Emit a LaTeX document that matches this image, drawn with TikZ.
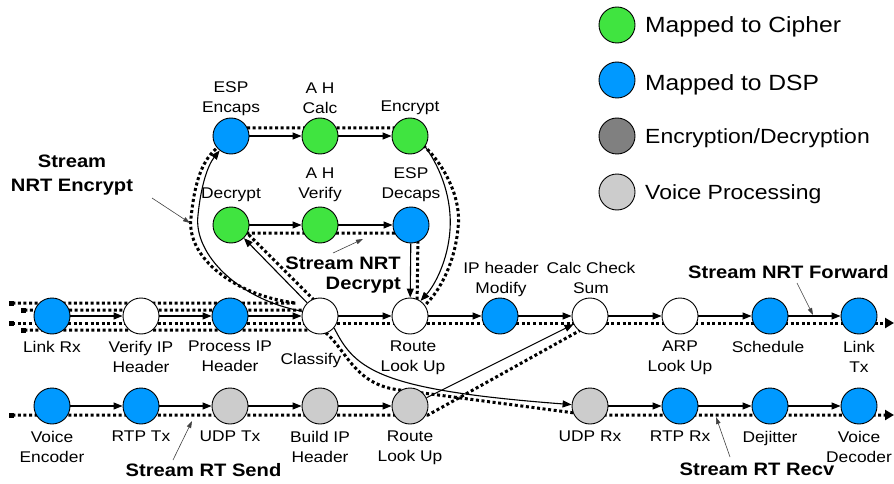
\documentclass[tikz,border=0pt]{standalone}
\usepackage{fontspec}
\setmainfont{Liberation Sans}[FakeStretch=1.12]
\usetikzlibrary{arrows.meta,backgrounds,calc}
\definecolor{cgreen}{RGB}{64,228,64}
\definecolor{cblue}{RGB}{0,153,255}
\definecolor{cdark}{RGB}{128,128,128}
\definecolor{clight}{RGB}{204,204,204}
\begin{document}
\begin{tikzpicture}[x=1pt,y=-1pt,
  proc/.style={circle,draw=black,line width=0.9pt,minimum size=36pt,inner sep=0pt},
  cip/.style={proc,fill=cgreen},
  dsp/.style={proc,fill=cblue},
  wht/.style={proc,fill=white},
  voi/.style={proc,fill=clight},
  encdec/.style={proc,fill=cdark},
  lbl/.style={font=\fontsize{15.5}{20}\selectfont,align=center,inner sep=0pt},
  strm/.style={font=\fontsize{18}{24}\selectfont\bfseries,align=center,inner sep=0pt},
  legA/.style={font=\fontsize{22}{26}\selectfont,anchor=base west,inner sep=0pt},
  legB/.style={font=\fontsize{20.5}{24}\selectfont,anchor=base west,inner sep=0pt},
  flow/.style={line width=1.1pt,-{Triangle[length=9pt,width=7pt]}},
  dotline/.style={line width=3pt,dash pattern=on 3pt off 2.6pt},
  sqstart/.style={{Square[length=5pt,width=5pt]}-},
  sqboth/.style={{Square[length=5pt,width=5pt]}-{Triangle[length=9pt,width=10pt]}},
  leadr/.style={line width=0.6pt,draw=black!75,-{Triangle[length=7pt,width=4.5pt]}}
]
\useasboundingbox (0,0) rectangle (894,484);

% legend
\node[cip] (lg1) at (617,25) {};
\node[dsp] (lg2) at (617,80) {};
\node[encdec] (lg3) at (617,136) {};
\node[voi] (lg4) at (617,192) {};
\node[legA] (lt1) at (645,33) {Mapped to Cipher};
\node[legA] (lt2) at (645,91) {Mapped to DSP};
\node[legB] (lt3) at (645,143) {Encryption/Decryption};
\node[legB] (lt4) at (645,199) {Voice Processing};

% process nodes
\node[dsp] (esp) at (231,136) {};
\node[cip] (ahc) at (320,136) {};
\node[cip] (enc) at (410,136) {};
\node[cip] (dec) at (231,225) {};
\node[cip] (ahv) at (320,225) {};
\node[dsp] (espd) at (411,225) {};
\node[dsp] (lrx) at (52,316) {};
\node[wht] (vip) at (141,316) {};
\node[dsp] (pip) at (230,316) {};
\node[wht] (cls) at (320,316) {};
\node[wht] (rlu) at (410,316) {};
\node[dsp] (ipm) at (500,316) {};
\node[wht] (ccs) at (590,316) {};
\node[wht] (arp) at (680,316) {};
\node[dsp] (sch) at (770,316) {};
\node[dsp] (ltx) at (859,316) {};
\node[dsp] (ven) at (52,406) {};
\node[dsp] (rtx) at (141,406) {};
\node[voi] (utx) at (230,406) {};
\node[voi] (bip) at (320,406) {};
\node[voi] (rlb) at (410,406) {};
\node[voi] (urx) at (590,406) {};
\node[dsp] (rrx) at (680,406) {};
\node[dsp] (dej) at (770,406) {};
\node[dsp] (vdc) at (859,406) {};

% node labels
\node[lbl] (tesp) at (231,98.7) {ESP\\Encaps};
\node[lbl] (tahc) at (320,98.5) {A H\\Calc};
\node[lbl] (tenc) at (410,108) {Encrypt};
\node[lbl] (tdec) at (231,195) {Decrypt};
\node[lbl] (tahv) at (320,185) {A H\\Verify};
\node[lbl] (tespd) at (411,185) {ESP\\Decaps};
\node[lbl] (tlrx) at (52,346.5) {Link Rx};
\node[lbl] (tvip) at (141,356.5) {Verify IP\\Header};
\node[lbl] (tpip) at (230,356.5) {Process IP\\Header};
\node[lbl] (tcls) at (311,360) {Classify};
\node[lbl] (trlu) at (413,358) {Route\\Look Up};
\node[lbl] (tipm) at (501,279) {IP header\\Modify};
\node[lbl] (tccs) at (591,277.5) {Calc Check\\Sum};
\node[lbl] (tarp) at (680,358) {ARP\\Look Up};
\node[lbl] (tsch) at (768,346.5) {Schedule};
\node[lbl] (tltx) at (859,356.5) {Link\\Tx};
\node[lbl] (tven) at (52,446.5) {Voice\\Encoder};
\node[lbl] (trtx) at (141,436.5) {RTP Tx};
\node[lbl] (tutx) at (230,436.5) {UDP Tx};
\node[lbl] (tbip) at (320,446.5) {Build IP\\Header};
\node[lbl] (trlb) at (410,448) {Route\\Look Up};
\node[lbl] (turx) at (590,436.5) {UDP Rx};
\node[lbl] (trrx) at (680,436.5) {RTP Rx};
\node[lbl] (tdej) at (770,438) {Dejitter};
\node[lbl] (tvdc) at (859,446.5) {Voice\\Decoder};

% stream labels
\node[strm] (snrte) at (72,175.4) {Stream\\NRT Encrypt};
\node[strm,font=\fontsize{18}{20}\selectfont\bfseries,align=right,anchor=east] (snrtd) at (401,275.4) {Stream NRT\\Decrypt};
\node[strm,anchor=west] (snrtf) at (688,272.5) {Stream NRT Forward};
\node[strm] (srts) at (203.5,470.5) {Stream RT Send};
\node[strm] (srtr) at (757,469.5) {Stream RT Recv};

\coordinate (s1) at (8.5,303);
\coordinate (s2) at (20.5,310);
\coordinate (s3) at (8.5,323);
\coordinate (s4) at (20.5,330);
\coordinate (s5) at (8.5,415);
\coordinate (e1) at (894,323);
\coordinate (e2) at (894,415);
\coordinate (a1) at (152,198);  \coordinate (b1) at (190,223);
\coordinate (a2) at (333,253);  \coordinate (b2) at (363,239);
\coordinate (a3) at (797,283);  \coordinate (b3) at (813,315);
\coordinate (a4) at (173,460);  \coordinate (b4) at (192,421);
\coordinate (a5) at (730,457);  \coordinate (b5) at (716,417);

\begin{scope}[on background layer]
% stream NRT encrypt
\draw[dotline,sqstart] (s1) -- ($(cls)+(-24,-13)$)
  .. controls (236,296) and (186,258) .. (191,218)
  .. controls (194,188) and (200,162) .. ($(esp)+(-14,12)$)
  -- ($(esp)+(0,-8)$) -- ($(enc)+(0,-8)$) -- ($(enc)+(13,9)$)
  .. controls (445,165) and (462,200) .. (458,228)
  .. controls (455,262) and (440,292) .. ($(rlu)+(13,-9)$) -- ($(rlu)+(0,7)$);
% stream NRT decrypt
\draw[dotline,sqstart] (s2) -- ($(cls)+(4,-6)$) -- ($(dec)+(4,-4)$) -- ($(dec)+(0,8)$)
  -- ($(espd)+(7,8)$) -- ($(rlu)+(7,-5)$);
% stream NRT forward
\draw[dotline,sqboth] (s3) -- (e1);
% stream RT recv
\draw[dotline,sqboth] (s4) -- ($(cls)+(2,14)$)
  .. controls (345,345) and (352,385) .. (400,390) -- ($(urx)+(0,9)$) -- (e2);
% stream RT send
\draw[dotline,sqstart] (s5) -- ($(rlb)+(18,9)$) -- ($(ccs)+(-2,10)$);

% control flow
\draw[flow] (esp) -- (ahc);
\draw[flow] (ahc) -- (enc);
\draw[flow] (dec) -- (ahv);
\draw[flow] (ahv) -- (espd);
\draw[flow] (lrx) -- (vip);
\draw[flow] (vip) -- (pip);
\draw[flow] (pip) -- (cls);
\draw[flow] (cls) -- (rlu);
\draw[flow] (rlu) -- (ipm);
\draw[flow] (ipm) -- (ccs);
\draw[flow] (ccs) -- (arp);
\draw[flow] (arp) -- (sch);
\draw[flow] (sch) -- (ltx);
\draw[flow] (ven) -- (rtx);
\draw[flow] (rtx) -- (utx);
\draw[flow] (utx) -- (bip);
\draw[flow] (bip) -- (rlb);
\draw[flow] (urx) -- (rrx);
\draw[flow] (rrx) -- (dej);
\draw[flow] (dej) -- (vdc);
\draw[flow] (cls) -- (dec);
\draw[flow] (espd) -- (rlu);
\draw[flow] (rlb) -- (ccs);
\draw[flow] (cls.165) .. controls (240,300) and (193,255) .. (198,215)
  .. controls (201,185) and (208,165) .. (esp.232);
\draw[flow] (enc.-35) .. controls (442,170) and (452,200) .. (450,230)
  .. controls (448,260) and (435,285) .. (rlu.55);
\draw[flow] (cls.-40) .. controls (355,370) and (380,390) .. (urx);

% leaders
\draw[leadr] (a1) -- (b1);
\draw[leadr] (a2) -- (b2);
\draw[leadr] (a3) -- (b3);
\draw[leadr] (a4) -- (b4);
\draw[leadr] (a5) -- (b5);
\end{scope}
\end{tikzpicture}
\end{document}
